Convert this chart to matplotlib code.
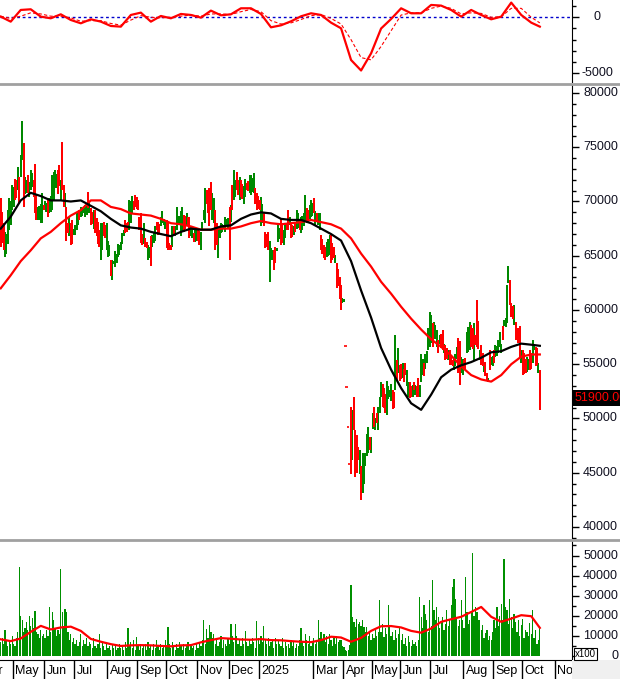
import numpy as np
import matplotlib
matplotlib.use('Agg')
import matplotlib.pyplot as plt
from matplotlib.lines import Line2D
from matplotlib.patches import Rectangle
import matplotlib.transforms as mtransforms

plt.rcParams['font.family'] = ['Liberation Sans', 'DejaVu Sans']

# daily bars: g = up bar (green), r = down bar (red)
bar_dirs = ("rrrggggggg" "rrgrggrggr" "gggrrrgggg" "rggrgggggg" "rrgrrgrrgr"
            "rggggrgggg" "grgrrgrrrr" "ggrrgggrgg" "gggggggrrr" "gggrrrrrrr"
            "grrggrgggr" "rrggggrrrr" "grggggggrr" "grrggrggrr" "ggggrrrrgg"
            "rrgggggggg" "rgrggrrgrr" "ggrrggggrr" "rrggrrrrgg" "grrgggrrgg"
            "rrgrrgrggr" "ggggrrgggr" "grggrrrrgg" "grrrgrrrrg" "grrrrrgrrr"
            "rgrgggggrg" "grgrgggrrr" "ggggrrgrgr" "rgrrggrrgr" "grrgggrggg"
            "ggrgggrgrr" "grrgrrrggg" "rrggrrgggr" "rgrrrgrrgr" "rgrggrgggg"
            "grggggrrrg" "rrrrgrrrgg" "rrggrrgr")

# high / low in thousands
high_k = [
    70.3, 69.0, 68.0, 67.2, 67.0, 69.2, 70.3, 70.0, 71.5, 71.3,
    72.1, 72.0, 73.2, 72.3, 74.3, 77.4, 75.4, 72.3, 72.0, 72.4,
    71.8, 72.9, 72.6, 72.0, 73.5, 70.6, 69.5, 69.6, 69.8, 70.8,
    69.7, 70.0, 69.9, 70.1, 70.3, 70.5, 72.4, 72.7, 72.9, 72.5,
    72.9, 73.4, 72.0, 75.5, 71.5, 70.8, 69.5, 68.0, 68.6, 68.0,
    68.3, 67.5, 67.8, 68.9, 68.9, 69.2, 69.5, 69.4, 69.5, 69.7,
    69.6, 70.9, 70.0, 69.4, 69.0, 69.2, 69.2, 68.5, 68.1, 67.4,
    68.0, 68.0, 68.1, 67.8, 68.0, 66.4, 66.0, 64.6, 64.6, 64.5,
    65.4, 65.2, 66.1, 66.0, 66.3, 67.1, 67.4, 68.3, 68.0, 68.1,
    70.1, 70.0, 70.5, 70.0, 70.6, 70.4, 70.1, 68.6, 68.9, 67.0,
    68.0, 66.6, 66.3, 66.0, 65.8, 66.8, 66.9, 67.2, 67.7, 68.1,
    68.1, 67.9, 68.6, 69.1, 68.4, 68.1, 68.3, 68.1, 66.2, 66.0,
    67.7, 67.7, 67.7, 69.5, 68.6, 68.7, 69.1, 69.5, 68.8, 68.7,
    68.9, 68.6, 68.6, 67.7, 67.5, 67.1, 67.5, 67.4, 67.5, 67.3,
    67.2, 68.1, 69.2, 71.2, 71.1, 70.6, 71.2, 71.8, 70.8, 70.3,
    69.2, 68.0, 67.4, 67.5, 68.0, 67.9, 67.8, 68.6, 68.4, 68.5,
    69.5, 69.7, 71.5, 72.9, 72.0, 72.7, 72.0, 72.3, 72.0, 71.6,
    71.4, 72.1, 71.7, 71.9, 72.4, 72.4, 72.2, 72.6, 71.2, 70.8,
    70.5, 70.1, 70.4, 69.8, 68.9, 67.2, 67.0, 67.2, 66.4, 65.7,
    65.5, 65.5, 65.8, 65.7, 68.0, 67.6, 68.4, 67.8, 67.4, 68.0,
    68.0, 69.2, 68.6, 68.0, 67.8, 67.7, 68.1, 69.2, 68.9, 68.3,
    68.6, 68.7, 68.9, 70.6, 69.4, 69.2, 69.7, 70.1, 69.9, 70.3,
    69.1, 68.9, 68.9, 68.9, 66.9, 66.5, 66.0, 65.8, 66.3, 66.5,
    66.9, 66.9, 66.2, 65.8, 65.1, 64.3, 63.8, 63.0, 62.3, 61.1,
    61.0, 56.7, 52.9, 49.2, 45.8, 51.1, 50.8, 52.0, 48.9, 48.5,
    47.4, 47.1, 45.6, 46.8, 46.5, 46.8, 48.6, 49.2, 48.3, 48.3,
    50.5, 51.1, 50.0, 50.5, 51.1, 52.0, 53.4, 53.2, 52.8, 52.3,
    53.5, 53.0, 52.6, 53.2, 52.6, 52.4, 57.7, 55.4, 56.5, 54.9,
    55.0, 55.1, 54.6, 55.1, 54.5, 53.4, 53.4, 53.0, 53.1, 53.4,
    53.1, 53.0, 53.7, 53.1, 55.9, 55.5, 55.1, 55.9, 56.2, 58.3,
    59.8, 59.5, 58.8, 58.9, 58.6, 58.2, 57.2, 57.7, 57.8, 58.2,
    56.9, 56.8, 56.5, 56.3, 56.3, 55.8, 55.4, 55.7, 55.9, 56.6,
    57.4, 57.1, 55.7, 55.5, 55.4, 55.6, 58.0, 58.4, 58.9, 58.6,
    58.3, 58.8, 57.7, 60.9, 59.0, 56.3, 56.8, 56.0, 55.2, 55.2,
    54.2, 53.7, 56.3, 55.7, 55.8, 56.3, 56.8, 56.7, 57.2, 58.0,
    56.9, 58.5, 59.1, 59.3, 62.3, 64.1, 62.8, 60.6, 60.4, 60.5,
    58.9, 58.2, 58.3, 58.5, 56.3, 56.3, 56.0, 55.5, 55.7, 55.5,
    56.3, 56.0, 57.2, 56.9, 56.6, 56.5, 55.1, 54.5,
]
low_k = [
    65.8, 66.2, 65.5, 64.9, 65.2, 66.1, 67.4, 67.8, 69.2, 69.5,
    70.1, 70.3, 71.1, 69.8, 72.3, 73.8, 69.5, 70.7, 70.8, 70.8,
    70.4, 71.1, 71.3, 70.4, 68.9, 68.3, 68.3, 68.3, 68.0, 68.0,
    69.2, 69.2, 69.0, 68.6, 68.9, 69.0, 69.2, 70.1, 71.4, 71.2,
    70.7, 71.4, 70.1, 71.1, 69.5, 69.5, 66.4, 67.1, 66.8, 66.0,
    66.1, 66.9, 66.9, 67.4, 67.8, 68.3, 68.6, 68.7, 68.9, 68.6,
    68.8, 69.4, 68.9, 67.8, 67.9, 67.5, 67.1, 66.8, 66.1, 65.8,
    64.6, 65.5, 66.8, 66.6, 65.5, 64.9, 65.0, 63.1, 62.8, 64.2,
    64.0, 64.3, 64.9, 65.1, 65.5, 66.1, 66.8, 67.1, 67.2, 67.8,
    67.4, 68.0, 68.9, 69.2, 69.5, 69.3, 69.2, 67.4, 66.2, 66.0,
    66.1, 65.8, 65.7, 64.6, 64.8, 64.1, 65.8, 66.2, 66.4, 67.4,
    66.9, 67.0, 67.7, 68.0, 67.8, 67.5, 65.7, 65.5, 65.5, 65.5,
    65.8, 66.8, 66.8, 67.4, 68.0, 67.8, 66.8, 67.2, 67.2, 67.5,
    67.8, 67.7, 66.6, 66.8, 66.6, 66.3, 66.3, 66.4, 66.4, 66.0,
    65.5, 67.4, 68.3, 68.0, 69.8, 68.9, 67.7, 69.2, 68.3, 68.0,
    65.5, 66.0, 64.8, 66.6, 67.1, 67.2, 67.5, 67.2, 67.7, 67.6,
    64.6, 68.1, 69.2, 70.1, 70.4, 71.1, 70.6, 70.1, 70.4, 70.2,
    69.8, 70.4, 71.1, 71.0, 70.8, 70.6, 70.9, 70.8, 69.8, 69.2,
    69.3, 69.2, 67.7, 68.0, 67.7, 65.7, 65.8, 65.5, 62.6, 64.8,
    64.6, 63.7, 64.3, 65.4, 66.3, 66.5, 66.0, 66.2, 66.0, 66.6,
    67.4, 67.4, 67.8, 66.6, 66.7, 66.9, 67.2, 67.5, 67.6, 67.4,
    67.1, 67.4, 67.7, 68.1, 68.0, 68.1, 68.4, 68.6, 68.7, 68.9,
    67.8, 68.1, 67.8, 67.4, 65.5, 65.2, 64.8, 64.6, 64.9, 65.0,
    65.1, 64.3, 64.6, 64.8, 64.3, 62.0, 62.2, 61.0, 60.0, 60.6,
    60.7, 56.7, 52.9, 49.2, 45.8, 44.9, 46.2, 48.9, 44.6, 45.0,
    46.2, 44.9, 42.5, 43.1, 44.0, 45.6, 46.5, 46.8, 47.1, 46.8,
    49.0, 49.2, 48.9, 49.6, 48.9, 50.5, 52.0, 51.1, 51.0, 50.5,
    50.3, 51.8, 52.0, 51.6, 50.9, 51.0, 52.6, 53.5, 54.2, 53.5,
    53.6, 53.7, 53.4, 54.0, 53.0, 52.0, 51.9, 52.0, 52.0, 52.6,
    52.2, 52.0, 52.0, 52.0, 53.4, 54.0, 53.9, 54.6, 55.1, 56.3,
    56.6, 57.0, 56.6, 57.5, 57.3, 56.6, 56.0, 56.9, 56.5, 56.3,
    56.0, 55.4, 55.5, 55.4, 54.9, 54.9, 54.8, 54.5, 54.8, 55.5,
    54.2, 53.1, 54.2, 54.0, 54.5, 54.6, 56.0, 56.1, 56.3, 56.6,
    56.4, 55.4, 56.8, 56.6, 56.4, 55.4, 54.9, 54.8, 54.3, 53.9,
    53.5, 53.4, 54.5, 54.9, 54.8, 55.1, 55.7, 55.8, 56.0, 56.6,
    56.0, 57.2, 58.5, 58.4, 58.8, 62.5, 60.5, 59.4, 59.2, 58.6,
    57.2, 57.2, 57.0, 55.5, 55.1, 54.0, 54.1, 54.2, 54.3, 54.5,
    54.5, 54.6, 55.1, 56.3, 54.8, 54.9, 54.2, 50.8,
]
last_close = 51900

# volume, thousands (axis is in x100 shares)
vol_k = [
    7, 9, 6, 13, 8, 5, 7, 6, 10, 6,
    5, 9, 12, 44.5, 20, 18, 12, 14, 17, 13,
    20, 15, 19, 14, 22.4, 12, 11, 9, 13, 10,
    11, 9, 13, 10, 24.4, 12, 22, 18, 14, 10,
    13, 11, 43.4, 21.9, 15, 23.5, 21.9, 12, 8, 11,
    7, 9, 6, 8, 5, 7, 11, 5, 8, 6,
    9, 5, 7, 6, 4, 9, 5, 4, 6, 11,
    4, 7, 5, 3, 6, 4, 5, 3, 6, 4,
    5, 3, 4, 6, 4, 5, 3, 7, 4, 13.7,
    5, 7, 4, 8, 3, 9.6, 5, 3, 6, 4,
    5, 6, 3, 7, 4, 5, 3, 6, 4, 8,
    5, 3, 6, 4, 5, 8.2, 5, 14.2, 6, 4,
    7, 5, 3, 6, 4, 7, 5, 3, 6, 4,
    5, 7, 3, 6, 4, 5, 3, 6, 4, 7,
    5, 8, 18.1, 6, 13.2, 9, 15.2, 12, 9, 11,
    6, 9, 5, 7, 10, 4, 8, 6, 5, 9,
    6, 15.8, 10, 7, 15.8, 10, 6, 8, 5, 9,
    6, 12.2, 7, 5, 8, 6, 9, 7, 4, 17.3,
    9, 6, 10, 7, 14.9, 8, 6, 9, 5, 7,
    8, 4, 9, 6, 8, 6, 5, 9, 4, 7,
    5, 6, 4, 8, 5, 7, 4, 6, 5, 8,
    13.7, 7, 5, 11, 8, 6, 10, 5, 7, 9,
    6, 8, 17.8, 9, 12, 8, 11, 7, 10, 6,
    10.7, 8, 5, 9, 6, 10, 7, 8, 7.9, 5,
    4.6, 3, 2.5, 3, 5.5, 35.5, 19.5, 17, 14.5, 18.6,
    16, 17, 15, 18, 14.5, 12, 14.5, 10, 12, 8,
    11, 9, 13, 10, 12, 27.7, 12, 16, 9.6, 14,
    11, 25.2, 14.5, 10, 12, 8, 13, 9, 11, 14,
    8, 11, 6, 9, 5, 10, 7, 5, 8, 6,
    7, 5, 8, 29.4, 19.5, 14, 25.2, 21, 17.8, 12,
    27.7, 15, 37.6, 22.8, 17.8, 24.4, 19.5, 14, 17, 19.5,
    13, 16, 22.8, 15, 18, 25.2, 34.3, 38.4, 28.5, 19.5,
    15, 17.8, 27.7, 18, 14, 39.3, 21.9, 16, 17.8, 22,
    51.3, 20, 24.4, 21.9, 18, 17.8, 13, 15.3, 9, 11.2,
    12.9, 8, 10, 7.9, 12, 17.8, 14, 24.4, 15, 20,
    26.1, 18, 48.3, 24.4, 22.8, 16, 28.5, 19.5, 14, 21.1,
    17, 12, 17.8, 10, 15.3, 18.6, 9, 13, 12, 10,
    16.2, 11, 22.8, 9, 12.9, 6, 7.9, 14.8,
]

# indicator lines, read every 7th bar (last point = last bar)
ma_black_k = [67.5, 68.6, 70.1, 70.8, 70.5, 70.1, 70.1, 70.0, 70.1, 69.6,
              69.1, 68.4, 67.8, 67.6, 67.5, 67.2, 67.0, 66.8, 67.2, 67.5,
              67.4, 67.4, 67.7, 67.8, 68.4, 68.8, 69.0, 68.9, 68.4, 68.3,
              68.3, 68.0, 67.5, 67.0, 66.4, 64.5, 61.8, 59.3, 56.5, 54.5,
              52.8, 51.4, 50.8, 52.2, 53.8, 54.5, 54.9, 55.2, 55.6, 56.1,
              56.2, 56.6, 56.9, 56.8, 56.7]
ma_red_k = [62.0, 63.2, 64.5, 65.5, 66.6, 67.2, 68.0, 68.7, 69.2, 70.1,
            70.1, 69.5, 69.3, 68.9, 68.8, 68.7, 68.4, 68.0, 67.9, 67.7,
            67.4, 67.4, 67.5, 67.5, 67.7, 68.0, 68.2, 68.0, 67.9, 68.0,
            68.1, 68.3, 68.1, 67.9, 67.5, 66.6, 65.2, 64.0, 62.6, 61.5,
            60.3, 59.2, 58.2, 57.3, 56.6, 55.8, 54.8, 54.0, 53.6, 53.4,
            54.0, 55.0, 55.7, 55.9, 55.9]
macd = [60, -387, 656, 715, 60, -89, 268, -238, -536, -179,
        -387, -775, -834, 209, 417, -387, 119, -89, 298, 209,
        -30, 596, 179, 268, 805, 805, 298, -894, -715, -358,
        89, 358, 209, -477, -983, -3814, -4750, -3218, -1000, -150,
        805, 358, 358, 1103, 1043, 656, 60, 656, 209, -179,
        60, 1311, 209, -477, -834]
macd_signal = [100, -100, 100, 400, 300, 100, 100, -50, -350, -300,
               -300, -550, -700, -250, 150, 0, -50, 0, 100, 200,
               100, 300, 300, 250, 500, 700, 500, -300, -600, -500,
               -200, 150, 250, -100, -600, -2000, -3600, -3800, -2600, -1200,
               200, 400, 400, 800, 1000, 800, 300, 400, 350, 0,
               50, 800, 800, 0, -500]
vol_ma_k = [8.3, 7.4, 8.7, 12.0, 15.0, 13.2, 14.2, 14.6, 12.5, 8.5,
            7.1, 5.9, 5.0, 5.3, 5.4, 5.3, 5.0, 4.8, 5.3, 5.4,
            6.8, 7.9, 8.9, 8.6, 8.2, 8.1, 8.4, 7.9, 7.8, 7.4,
            7.1, 6.9, 7.9, 9.6, 9.2, 7.1, 9.0, 12.5, 14.8, 14.9,
            14.2, 12.5, 11.6, 13.7, 17.0, 18.3, 19.5, 21.9, 24.4, 19.5,
            17.0, 18.6, 20.3, 19.8, 14.0]

month_starts = [-13, 9, 31, 52, 75, 96, 116, 138, 160, 181,
                219, 240, 260, 280, 301, 324, 345, 365, 388]
month_labels = ['Apr', 'May', 'Jun', 'Jul', 'Aug', 'Sep', 'Oct', 'Nov', 'Dec', '2025',
                'Mar', 'Apr', 'May', 'Jun', 'Jul', 'Aug', 'Sep', 'Oct', 'Nov']

n = len(high_k)
idx = np.arange(n)
hi = np.array(high_k) * 1000
lo = np.array(low_k) * 1000
up = np.array([c == 'g' for c in bar_dirs])
vol = np.array(vol_k) * 1000
line_idx = np.r_[np.arange(0, n - 6, 7), n - 1]

RED = '#ff0000'
GREEN = '#008800'
W, H = 620, 679
AXW = 572
fig = plt.figure(figsize=(W / 100, H / 100), dpi=100)


def px_axes(x0, y0, x1, y1):
    return fig.add_axes([x0 / W, 1 - y1 / H, (x1 - x0) / W, (y1 - y0) / H])


def right_labels(ax, values, xpix, ha):
    tr = mtransforms.blended_transform_factory(ax.transAxes, ax.transData)
    for v in values:
        ax.text(xpix / AXW, v, f'{v:d}', transform=tr, ha=ha, va='center',
                fontsize=9, color='#101020', clip_on=False)


ax_m = px_axes(0, 0, AXW, 82)
ax_p = px_axes(0, 85, AXW, 538)
ax_v = px_axes(0, 541, AXW, 660)
ax_x = px_axes(0, 660, AXW, 679)

for ax in (ax_m, ax_p, ax_v, ax_x):
    ax.set_xlim(-0.5, 399.5)
    for s in ('top', 'left', 'bottom'):
        ax.spines[s].set_visible(False)
    ax.spines['right'].set_color('black')
    ax.tick_params(axis='x', which='both', bottom=False, labelbottom=False)
    ax.yaxis.tick_right()
    ax.tick_params(axis='y', which='both', labelright=False, direction='out', width=1)
    ax.tick_params(axis='y', which='major', length=5)
    ax.tick_params(axis='y', which='minor', length=3)

# MACD panel
ax_m.axhline(0, color='#0000cc', lw=1, ls=(0, (2, 2)))
ax_m.plot(line_idx, macd_signal, color=RED, lw=0.8, ls=(0, (3, 2)))
ax_m.plot(line_idx, macd, color=RED, lw=1.6)
ax_m.set_ylim(-5778, 1545)
ax_m.set_yticks([-5000, 0])
ax_m.set_yticks(np.arange(-5000, 1001, 1000), minor=True)
right_labels(ax_m, [-5000, 0], 597, 'center')

# price panel
ax_p.vlines(idx[up], lo[up], hi[up], colors=GREEN, lw=1.3, antialiased=False)
ax_p.vlines(idx[~up], lo[~up], hi[~up], colors=RED, lw=1.3, antialiased=False)
flat = hi == lo
ax_p.hlines(hi[flat], idx[flat] - 0.9, idx[flat] + 0.9, colors=RED, lw=1.2)
ax_p.plot(line_idx, np.array(ma_red_k) * 1000, color=RED, lw=1.6)
ax_p.plot(line_idx, np.array(ma_black_k) * 1000, color='black', lw=1.6)
ax_p.set_ylim(38985, 80737)
ax_p.set_yticks(np.arange(40000, 80001, 5000))
ax_p.set_yticks(np.arange(39000, 80001, 1000), minor=True)
right_labels(ax_p, list(range(40000, 80001, 5000)), 583, 'left')
tr = mtransforms.blended_transform_factory(ax_p.transAxes, ax_p.transData)
ax_p.text(575 / AXW, last_close, f'{last_close:.2f}', transform=tr, color=RED,
          fontsize=9, va='center', ha='left', clip_on=False,
          bbox=dict(facecolor='black', edgecolor='none', pad=1.5))

# volume panel
ax_v.bar(idx, vol, width=0.85, color='#009000', linewidth=0, antialiased=False)
ax_v.plot(line_idx, np.array(vol_ma_k) * 1000, color=RED, lw=1.6)
ax_v.set_ylim(-1990, 57214)
ax_v.set_yticks(np.arange(0, 50001, 10000))
ax_v.set_yticks(np.arange(0, 55001, 5000), minor=True)
right_labels(ax_v, list(range(0, 50001, 10000)), 618, 'right')
fig.text(575 / W, 1 - 654 / H, 'x100', fontsize=7, va='center', ha='left',
         bbox=dict(facecolor='white', edgecolor='black', pad=1, lw=0.8))

# month strip
ax_x.set_ylim(0, 1)
ax_x.set_yticks([])
ax_x.spines['right'].set_visible(False)
ax_x.spines['top'].set_visible(True)
ax_x.spines['top'].set_color('black')
ax_x.vlines(np.array(month_starts) - 0.5, 0, 1, colors='black', lw=1)
for s, lab in zip(month_starts, month_labels):
    ax_x.text(s + 1.2, 0.42, lab, fontsize=9, va='center', ha='left', clip_on=True)
fig.patches.append(Rectangle((AXW / W, 0), (W - AXW) / W, 19 / H, transform=fig.transFigure,
                             facecolor='#f0f0f0', edgecolor='none'))

# panel separators
for yp in (83.5, 539.5):
    fig.add_artist(Line2D([0, 1], [1 - yp / H] * 2, color='#a0a0a0', lw=2))

fig.savefig('out.png', dpi=100)
